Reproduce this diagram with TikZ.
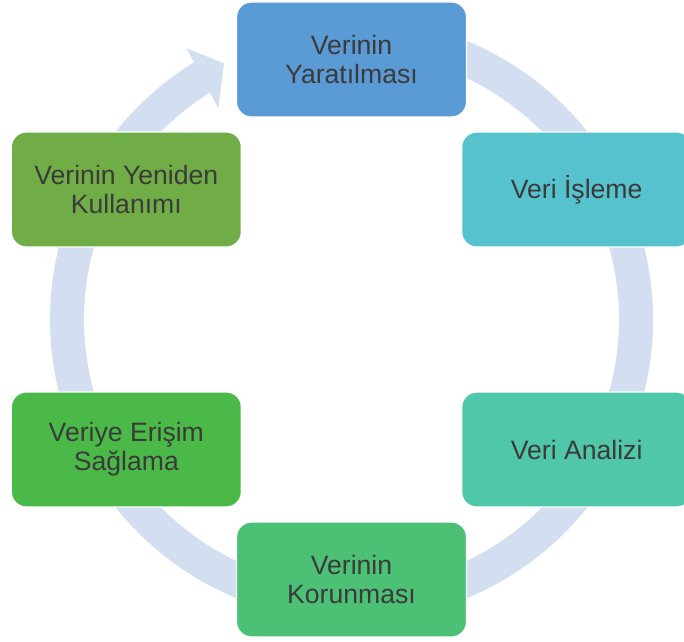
\documentclass[tikz,border=0pt]{standalone}
\usepackage{fontspec}
\setmainfont{Liberation Sans}
\usetikzlibrary{calc}
\definecolor{ringc}{RGB}{211,222,240}
\definecolor{txt}{RGB}{58,58,58}
\definecolor{cA}{RGB}{91,155,213}
\definecolor{cB}{RGB}{86,194,206}
\definecolor{cC}{RGB}{80,199,168}
\definecolor{cD}{RGB}{76,193,117}
\definecolor{cE}{RGB}{75,185,72}
\definecolor{cF}{RGB}{112,173,71}
\begin{document}
\begin{tikzpicture}[x=1pt,y=1pt,
  box/.style={rounded corners=15pt, minimum width=230pt, minimum height=115pt,
    draw=white, line width=1.2pt, text=txt, align=center, inner sep=0pt,
    font=\fontsize{26.6}{29}\selectfont},
  ring/.style={fill=ringc, draw=none}]
\useasboundingbox (0,0) rectangle (684,641);
\clip (0,0) rectangle (684,641);
\coordinate (c) at (351.5,321.5);
% ring shaft
\fill[ringc] ($(c)+(100:301.5)$) arc[start angle=100, end angle=-238.5, radius=301.5]
  -- ($(c)+(121.5:267.5)$) arc[start angle=121.5, end angle=460, radius=267.5] -- cycle;
% arrow head
\coordinate (hb1) at ($(c)+(121.3:317.3)$);
\coordinate (ht) at ($(c)+(116.46:286.2)$);
\coordinate (hb2) at ($(c)+(122.24:249.7)$);
\fill[ringc] (hb1) -- (ht) -- (hb2) -- cycle;
% boxes
\node[box, fill=cA] (n1) at ($(c)+(90:260)$) {Verinin\\Yaratılması};
\node[box, fill=cB] (n2) at ($(c)+(30:260)$) {Veri İşleme};
\node[box, fill=cC] (n3) at ($(c)+(-30:260)$) {Veri Analizi};
\node[box, fill=cD] (n4) at ($(c)+(-90:260)$) {Verinin\\Korunması};
\node[box, fill=cE] (n5) at ($(c)+(-150:260)$) {Veriye Erişim\\Sağlama};
\node[box, fill=cF] (n6) at ($(c)+(150:260)$) {Verinin Yeniden\\Kullanımı};
\end{tikzpicture}
\end{document}
